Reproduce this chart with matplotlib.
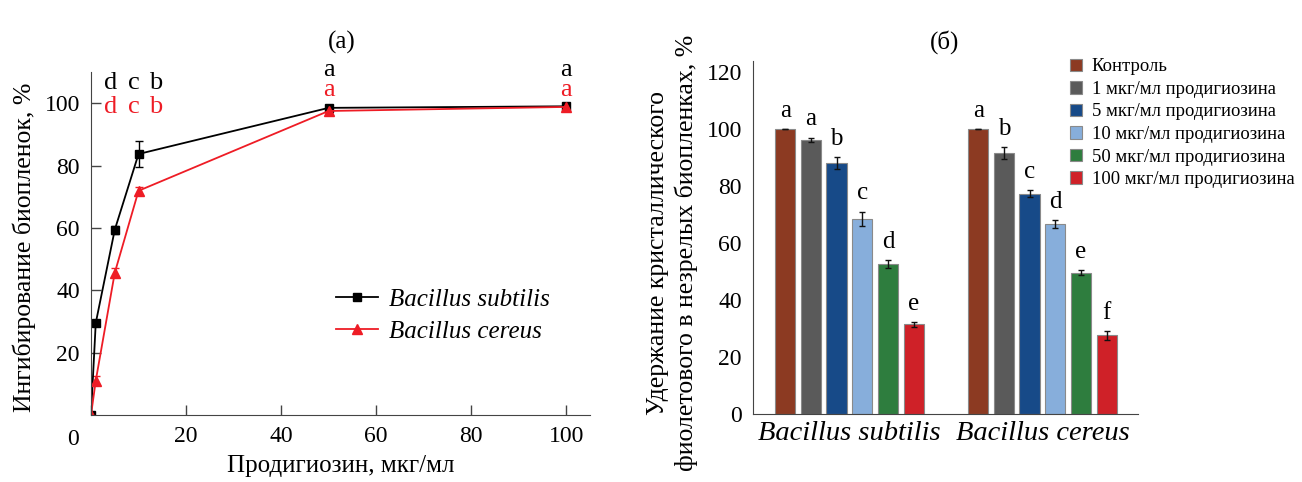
import numpy as np
import matplotlib
matplotlib.use("Agg")
import matplotlib.pyplot as plt
from matplotlib.patches import Patch
from matplotlib.lines import Line2D

plt.rcParams['font.family'] = ['Liberation Serif', 'DejaVu Serif']

# --- данные (а): ингибирование биопленок
conc = [0, 1, 5, 10, 50, 100]
subtilis_inh = [0, 29.5, 59.4, 83.7, 98.5, 99.0]
subtilis_err = [0, 0.8, 1.2, 4.3, 0.6, 0.6]
cereus_inh = [0, 11.0, 45.6, 71.9, 97.5, 98.8]
cereus_err = [0, 1.5, 1.5, 1.3, 0.6, 0.8]

# буквы значимости над кривыми
letter_x = [4.1, 9.05, 13.6, 50, 100]
subtilis_letters = ['d', 'c', 'b', 'a', 'a']
subtilis_letter_y = [106.6, 106.6, 106.6, 110.5, 110.5]
cereus_letters = ['d', 'c', 'b', 'a', 'a']
cereus_letter_y = [98.9, 98.9, 98.9, 104.2, 104.2]

# --- данные (б): удержание кристаллического фиолетового
species = ['Bacillus subtilis', 'Bacillus cereus']
treatments = ['Контроль', '1 мкг/мл продигиозина', '5 мкг/мл продигиозина',
              '10 мкг/мл продигиозина', '50 мкг/мл продигиозина',
              '100 мкг/мл продигиозина']
bar_colors = ['#8c3a22', '#5a5a5a', '#174a88', '#87aedb', '#2e7d3e', '#cf2128']
retention = [[100, 96.3, 88.2, 68.5, 52.7, 31.5],
             [100, 91.6, 77.4, 66.8, 49.7, 27.6]]
retention_err = [[0, 0.8, 2.0, 2.6, 1.3, 0.8],
                 [0, 2.2, 1.2, 1.4, 0.9, 1.5]]
retention_letters = [['a', 'a', 'b', 'c', 'd', 'e'],
                     ['a', 'b', 'c', 'd', 'e', 'f']]

spine_col = '#444444'
red = '#ee1c25'
fs = 17

fig = plt.figure(figsize=(13.02, 4.82), dpi=100)

# ---------------- панель (а)
ax1 = fig.add_axes([91/1302, 1-415/482, (590-91)/1302, (415-72)/482])
ax1.errorbar(conc, subtilis_inh, yerr=subtilis_err, color='black', marker='s',
             markersize=6, lw=1.3, capsize=3, elinewidth=1)
ax1.errorbar(conc, cereus_inh, yerr=cereus_err, color=red, marker='^',
             markersize=7, lw=1.3, capsize=3, elinewidth=1)
for x, t, y in zip(letter_x, subtilis_letters, subtilis_letter_y):
    ax1.text(x, y, t, color='black', fontsize=fs+2, ha='center', va='center',
             clip_on=False)
for x, t, y in zip(letter_x, cereus_letters, cereus_letter_y):
    ax1.text(x, y, t, color=red, fontsize=fs+2, ha='center', va='center',
             clip_on=False)

ax1.set_xlim(0, 105)
ax1.set_ylim(0, 110)
ax1.set_xticks([0, 20, 40, 60, 80, 100])
ax1.set_xticklabels(['', '20', '40', '60', '80', '100'])
ax1.set_yticks([20, 40, 60, 80, 100])
ax1.text(-0.036, -0.07, '0', transform=ax1.transAxes, fontsize=fs,
         ha='center', va='center')
ax1.tick_params(direction='in', length=7, width=1, color=spine_col,
                labelsize=fs, pad=8)
for s in ['top', 'right']:
    ax1.spines[s].set_visible(False)
for s in ['left', 'bottom']:
    ax1.spines[s].set_color(spine_col)
ax1.set_xlabel('Продигиозин, мкг/мл', fontsize=fs+1, labelpad=6)
ax1.set_ylabel('Ингибирование биопленок, %', fontsize=fs+1.5)
ax1.yaxis.set_label_coords(-0.11, 0.49)
leg_handles = [Line2D([], [], color='black', marker='s', markersize=6, lw=1.3),
               Line2D([], [], color=red, marker='^', markersize=7, lw=1.3)]
ax1.legend(leg_handles, species, loc='center left',
           bbox_to_anchor=(0.445, 0.29), frameon=False, handlelength=1.7,
           handletextpad=0.45, labelspacing=0.4,
           prop={'style': 'italic', 'size': fs+1})

# ---------------- панель (б)
ax2 = fig.add_axes([753/1302, 1-414/482, (1138-753)/1302, (414-61)/482])
group_x = np.arange(len(species))
bw = 0.105
step = 0.1333
for i, (lab, col) in enumerate(zip(treatments, bar_colors)):
    xs = group_x + (i - 2.5) * step
    vals = [retention[g][i] for g in range(len(species))]
    errs = [retention_err[g][i] for g in range(len(species))]
    ax2.bar(xs, vals, width=bw, color=col, edgecolor='#8a8a8a', linewidth=0.8,
            label=lab, zorder=2)
    ax2.errorbar(xs, vals, yerr=errs, fmt='none', ecolor='#111111',
                 elinewidth=1, capsize=2, zorder=3)
    for g in range(len(species)):
        ax2.text(xs[g], vals[g] + errs[g] + 2.5, retention_letters[g][i],
                 fontsize=fs+1, ha='center', va='bottom')

ax2.set_xlim(-0.5, 1.495)
ax2.set_ylim(0, 124)
ax2.set_yticks([0, 20, 40, 60, 80, 100, 120])
ax2.set_xticks(group_x)
ax2.set_xticklabels(species, fontsize=20.5, style='italic')
ax2.tick_params(axis='x', length=0, pad=5)
ax2.tick_params(axis='y', direction='in', length=0, labelsize=fs, pad=8)
for s in ['top', 'right']:
    ax2.spines[s].set_visible(False)
for s in ['left', 'bottom']:
    ax2.spines[s].set_color(spine_col)
ax2.set_ylabel('Удержание кристаллического\nфиолетового в незрелых биопленках, %',
               fontsize=18.5, linespacing=1.3)
ax2.yaxis.set_label_coords(-0.143, 0.456)

handles = [Patch(facecolor=c, edgecolor='#8a8a8a', linewidth=0.8)
           for c in bar_colors]
fig.legend(handles, treatments, loc='upper left',
           bbox_to_anchor=(1061/1302, 1-49/482), frameon=False,
           fontsize=13.4, handlelength=0.65, handleheight=0.65,
           handletextpad=0.5, labelspacing=0.3, borderpad=0)

fig.text(342/1302, 1-42/482, '(а)', fontsize=fs+1, ha='center', va='center')
fig.text(945/1302, 1-42/482, '(б)', fontsize=fs+1, ha='center', va='center')

fig.savefig('out.png', dpi=100)
